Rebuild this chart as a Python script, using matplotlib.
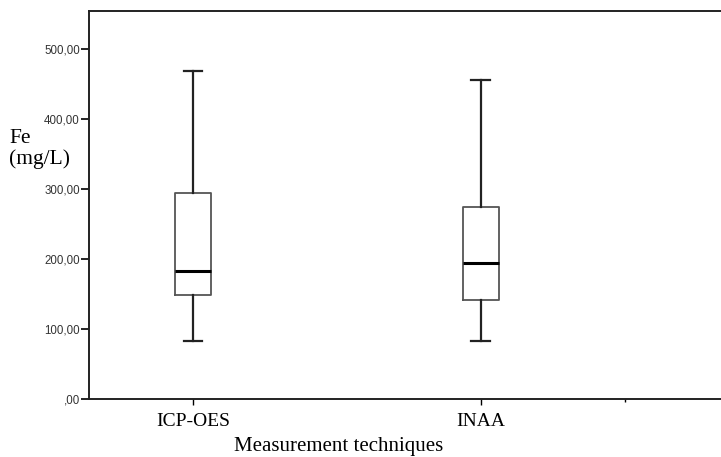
import numpy as np
import matplotlib
matplotlib.use("Agg")
import matplotlib.pyplot as plt
from matplotlib.ticker import FuncFormatter

# valores (Fe em mg/L)
tecnicas = ["ICP-OES", "INAA"]
whisker_low = [83.4, 83.8]
q1 = [148.8, 142.5]
mediana = [184.0, 195.4]
q3 = [294.7, 274.7]
whisker_high = [468.7, 456.8]

y_ticks = [0, 100, 200, 300, 400, 500]

stats = []
for i in range(len(tecnicas)):
    stats.append({"label": tecnicas[i], "whislo": whisker_low[i], "q1": q1[i],
                  "med": mediana[i], "q3": q3[i], "whishi": whisker_high[i],
                  "fliers": []})

fig = plt.figure(figsize=(7.21, 4.57), dpi=100)
ax = fig.add_axes([89/721, 57.7/457, 1 - 89/721 + 0.002, 388.3/457])

ax.bxp(stats, positions=[0, 1], widths=0.125, showfliers=False,
       boxprops=dict(color="#555555", linewidth=1.3),
       medianprops=dict(color="black", linewidth=2.2),
       whiskerprops=dict(color="#222222", linewidth=1.6),
       capprops=dict(color="#222222", linewidth=1.6),
       capwidths=0.065)

ax.set_xlim(-0.362, 1.84)
ax.set_ylim(0, 555)

ax.set_yticks(y_ticks)
ax.yaxis.set_major_formatter(FuncFormatter(
    lambda v, p: ",00" if v == 0 else f"{v:.2f}".replace(".", ",")))
ax.tick_params(axis="y", direction="out", length=6, width=1.2,
               labelsize=8.3, labelcolor="#333333", pad=0.5)
for t in ax.get_yticklabels():
    t.set_family("Liberation Sans")

ax.set_xticks([0, 1])
ax.set_xticklabels(tecnicas, family="Liberation Serif", fontsize=14)
ax.set_xticks([1.5], minor=True)
ax.tick_params(axis="x", which="major", direction="out", length=4, width=1, pad=6)
ax.tick_params(axis="x", which="minor", direction="out", length=2, width=1)

for s in ["left", "top", "bottom"]:
    ax.spines[s].set_linewidth(1.4)
    ax.spines[s].set_color("#222222")
ax.spines["right"].set_visible(False)

ax.set_xlabel("Measurement techniques", family="Liberation Serif", fontsize=15)
ax.xaxis.set_label_coords(0.394, -0.097)

fig.text(9/721, 1 - 149/457, "Fe\n(mg/L)", family="Liberation Serif",
         fontsize=15.5, ha="left", va="center", linespacing=1.05)

fig.savefig("out.png", dpi=100)
